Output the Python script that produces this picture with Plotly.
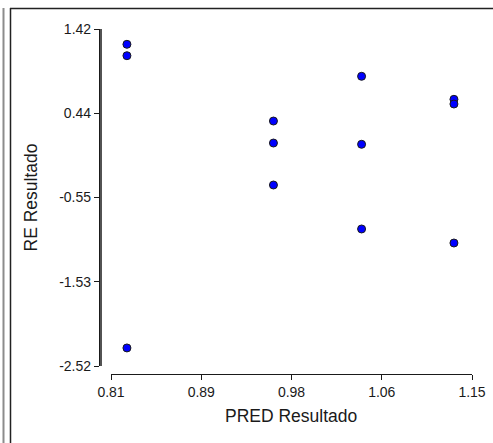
import plotly.graph_objects as go

# Data
pred = [0.825, 0.825, 1.046, 1.133, 1.133, 0.963, 0.963, 1.046, 0.963, 1.046, 1.133, 0.825]
re = [1.241, 1.108, 0.867, 0.598, 0.543, 0.344, 0.087, 0.072, -0.404, -0.918, -1.082, -2.309]

x_ticks = [0.81, 0.895, 0.98, 1.065, 1.15]
x_labels = ["0.81", "0.89", "0.98", "1.06", "1.15"]
y_ticks = [1.42, 0.435, -0.55, -1.535, -2.52]
y_labels = ["1.42", "0.44", "-0.55", "-1.53", "-2.52"]

W, H = 493, 443
L, R, T, B = 100, 21, 29, 60
pw = W - L - R
ph = H - T - B


def px(x):
    return (x - L) / pw


def py(y):
    return (H - B - y) / ph


# x scale: 0.81 sits 11px right of the y axis line
x_gap = 11 * (x_ticks[-1] - x_ticks[0]) / (pw - 11)
x_range = [x_ticks[0] - x_gap, x_ticks[-1]]
y_dom = [py(366), 1]

fig = go.Figure()

fig.add_trace(go.Scatter(
    x=pred,
    y=re,
    mode='markers',
    marker=dict(color='#0000ff', size=8, line=dict(color='#1a1a1a', width=1)),
    showlegend=False,
    cliponaxis=False,
))

# frame around the panel
fig.add_shape(type='line', xref='paper', yref='paper',
              x0=px(3.5), x1=px(3.5), y0=py(8), y1=py(450),
              line=dict(color='#8c8c8c', width=2))
fig.add_shape(type='line', xref='paper', yref='paper',
              x0=px(10.5), x1=px(10.5), y0=py(8), y1=py(450),
              line=dict(color='#222222', width=1.5))
fig.add_shape(type='line', xref='paper', yref='paper',
              x0=px(10), x1=px(500), y0=py(8.5), y1=py(8.5),
              line=dict(color='#222222', width=1.5))

# detached x axis line, starting at the first tick
fig.add_shape(type='line', xref='paper', yref='paper',
              x0=px(111), x1=1, y0=py(374.5), y1=py(374.5),
              line=dict(color='#1a1a1a', width=1.2))

# y axis line, drawn along the y domain
fig.add_shape(type='line', xref='paper', yref='paper', layer='above',
              x0=px(101), x1=px(101), y0=y_dom[0], y1=y_dom[1],
              line=dict(color='#1a1a1a', width=1.5))

# x axis title centred under the detached x axis
fig.add_annotation(text='PRED Resultado', xref='paper', yref='paper',
                   x=px(291), y=py(416), showarrow=False,
                   xanchor='center', yanchor='middle',
                   font=dict(size=17.5, color='#1a1a1a'))

axis_style = dict(
    showgrid=False,
    zeroline=False,
    linecolor='#1a1a1a',
    linewidth=1.2,
    ticks='outside',
    ticklen=5,
    tickcolor='#1a1a1a',
    tickwidth=1,
    tickfont=dict(size=14),
    automargin=False,
)

fig.update_layout(
    width=W,
    height=H,
    margin=dict(l=L, r=R, t=T, b=B),
    plot_bgcolor='rgba(0,0,0,0)',
    paper_bgcolor='white',
    font=dict(family='Liberation Sans, Arial, sans-serif', color='#1a1a1a', size=14),
    xaxis=dict(
        domain=[0, 1],
        anchor='free',
        position=py(374),
        showline=False,
        range=x_range,
        tickvals=x_ticks,
        ticktext=x_labels,
        **axis_style,
    ),
    yaxis=dict(
        domain=y_dom,
        anchor='x',
        showline=True,
        range=[-2.52, 1.42],
        tickvals=y_ticks,
        ticktext=y_labels,
        title=dict(text='RE Resultado', font=dict(size=17.5), standoff=17),
        **axis_style,
    ),
)

fig.write_html("out.html", config={'displayModeBar': False},
               post_script="document.body.style.margin='0';")
